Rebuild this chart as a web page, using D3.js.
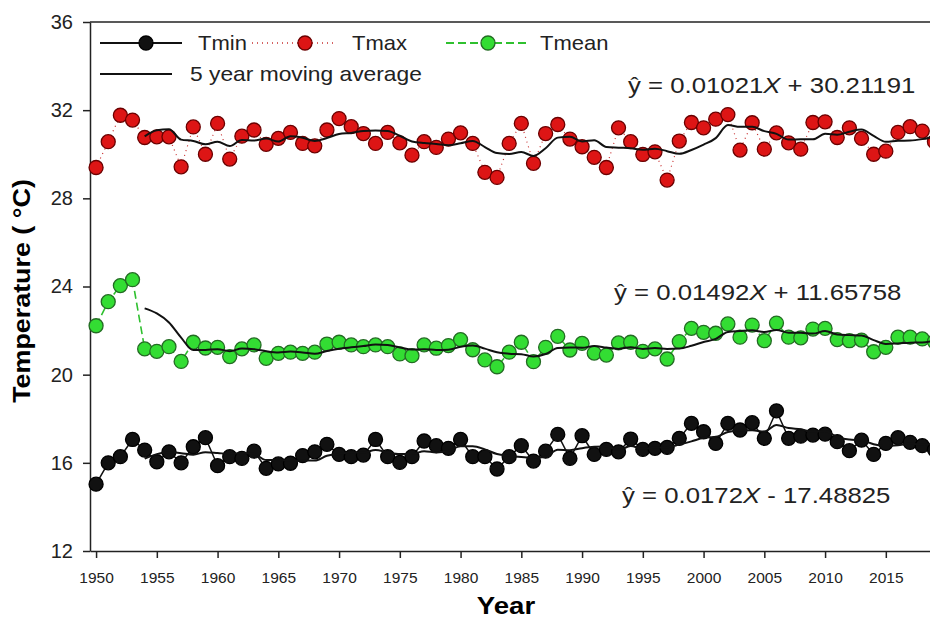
<!doctype html>
<html>
<head>
<meta charset="utf-8">
<title>Temperature</title>
<script src="https://d3js.org/d3.v7.min.js"></script>
<style>
body{margin:0;background:#fff;}
text{font-family:"Liberation Sans",Arial,sans-serif;}
</style>
</head>
<body>
<script>
var years = d3.range(1950, 2020);

var tmax = [29.40,30.57,31.77,31.55,30.76,30.79,30.79,29.43,31.24,30.00,
            31.40,29.78,30.82,31.10,30.45,30.72,30.99,30.49,30.38,31.10,
            31.62,31.25,30.94,30.49,30.99,30.52,29.96,30.57,30.31,30.69,
            30.97,30.49,29.18,28.95,30.49,31.40,29.59,30.94,31.35,30.69,
            30.34,29.86,29.40,31.20,30.57,29.99,30.11,28.83,30.60,31.44,
            31.20,31.59,31.80,30.19,31.43,30.23,30.97,30.52,30.23,31.44,
            31.47,30.76,31.20,30.72,30.00,30.14,30.99,31.25,31.05,30.57];

var tmean = [22.22,23.31,24.04,24.31,21.17,21.06,21.27,20.60,21.47,21.21,
             21.24,20.82,21.17,21.35,20.74,20.97,21.02,20.97,21.02,21.39,
             21.47,21.35,21.27,21.35,21.27,20.94,20.86,21.35,21.20,21.32,
             21.59,21.13,20.67,20.36,21.02,21.47,20.59,21.24,21.74,21.12,
             21.42,20.98,20.89,21.44,21.47,21.06,21.17,20.71,21.50,22.10,
             21.92,21.88,22.30,21.70,22.25,21.54,22.34,21.70,21.67,22.07,
             22.10,21.59,21.54,21.57,21.04,21.24,21.70,21.70,21.62,21.50];

var tmin = [15.03,16.00,16.28,17.06,16.58,16.05,16.50,16.00,16.73,17.14,
            15.87,16.28,16.20,16.53,15.75,15.95,15.98,16.33,16.50,16.84,
            16.38,16.28,16.35,17.06,16.28,16.02,16.28,16.99,16.78,16.66,
            17.06,16.28,16.28,15.72,16.28,16.78,16.08,16.53,17.29,16.20,
            17.23,16.38,16.61,16.50,17.08,16.61,16.66,16.70,17.11,17.79,
            17.41,16.88,17.79,17.49,17.82,17.11,18.36,17.11,17.21,17.26,
            17.30,16.96,16.55,17.03,16.38,16.88,17.14,16.93,16.78,16.60];

var xTicks = d3.range(1950, 2020, 5);
var yTicks = [12, 16, 20, 24, 28, 32, 36];

var equations = [
  {pre: "\u0177 = 0.01021", post: " + 30.21191", x: 628, y: 93},
  {pre: "\u0177 =  0.01492", post: " + 11.65758", x: 614, y: 300},
  {pre: "\u0177 = 0.0172", post: " - 17.48825", x: 622, y: 503}
];

var width = 930, height = 620;

var svg = d3.select("body").append("svg")
    .attr("width", width)
    .attr("height", height);

var x = d3.scaleLinear().domain([1949.5, 2020.5]).range([90, 90 + 71 * 12.15]);
var y = d3.scaleLinear().domain([12, 36]).range([551, 22]);

// 5 year moving average (trailing)
function movAvg(arr){
  var out = [];
  for (var i = 4; i < arr.length; i++){
    out.push({year: years[i], v: d3.mean(arr.slice(i - 4, i + 1))});
  }
  return out;
}

function pts(arr){
  return arr.map(function(v, i){ return {year: years[i], v: v}; });
}

// text a bit wider than the font, like the source picture
function wideText(g, tx, ty, sx, size){
  return g.append("text")
      .attr("transform", "translate(" + tx + "," + ty + ") scale(" + sx + ",1)")
      .style("font-size", size + "px")
      .attr("fill", "#222");
}

var line = d3.line()
    .x(function(d){ return x(d.year); })
    .y(function(d){ return y(d.v); });

var smooth = d3.line()
    .x(function(d){ return x(d.year); })
    .y(function(d){ return y(d.v); })
    .curve(d3.curveMonotoneX);

// axes
var yAxis = svg.append("g")
    .attr("transform", "translate(90,0)")
    .call(d3.axisLeft(y).tickValues(yTicks).tickSize(7).tickSizeOuter(0).tickPadding(10));
yAxis.selectAll("text").style("font-size", "20px").attr("fill", "#222");

var xAxis = svg.append("g")
    .attr("transform", "translate(0,551)")
    .call(d3.axisBottom(x).tickValues(xTicks).tickFormat(d3.format("d")).tickSize(7).tickSizeOuter(0).tickPadding(14));
xAxis.selectAll("text").style("font-size", "15.5px").attr("fill", "#222");

svg.selectAll(".domain, .tick line").attr("stroke", "#222").attr("stroke-width", 1.5);

svg.append("line")
    .attr("x1", 90).attr("x2", width)
    .attr("y1", y(36)).attr("y2", y(36))
    .attr("stroke", "#222").attr("stroke-width", 1.5);

svg.append("text")
    .attr("transform", "translate(30,291) rotate(-90) scale(1.12,1)")
    .attr("text-anchor", "middle")
    .style("font-size", "24px").style("font-weight", "bold")
    .text("Temperature ( \u00b0C)");

svg.append("text")
    .attr("transform", "translate(506,614) scale(1.15,1)")
    .attr("text-anchor", "middle")
    .style("font-size", "24px").style("font-weight", "bold")
    .text("Year");

var series = [
  {data: tmax, fill: "#dd1515", stroke: "#6a0000", lc: "#c83030", lw: 1.2, dash: "1,4"},
  {data: tmean, fill: "#33dd33", stroke: "#236b23", lc: "#2fc02f", lw: 1.6, dash: "8,4"},
  {data: tmin, fill: "#111", stroke: "#000", lc: "#111", lw: 1.5, dash: null}
];

series.forEach(function(s){
  var p = pts(s.data);
  svg.append("path")
      .datum(p)
      .attr("d", line)
      .attr("fill", "none")
      .attr("stroke", s.lc)
      .attr("stroke-width", s.lw)
      .attr("stroke-dasharray", s.dash);
  svg.append("g").selectAll("circle")
      .data(p)
      .enter()
      .append("circle")
      .attr("cx", function(d){ return x(d.year); })
      .attr("cy", function(d){ return y(d.v); })
      .attr("r", 7)
      .attr("fill", s.fill)
      .attr("stroke", s.stroke)
      .attr("stroke-width", 1.3);
  svg.append("path")
      .datum(movAvg(s.data))
      .attr("d", smooth)
      .attr("fill", "none")
      .attr("stroke", "#111")
      .attr("stroke-width", 2);
});

// equations
equations.forEach(function(e){
  var t = wideText(svg, e.x, e.y, 1.12, 23);
  t.append("tspan").text(e.pre);
  t.append("tspan").style("font-style", "italic").text("X");
  t.append("tspan").text(e.post);
});

// legend
var legend = [
  {label: "Tmin", s: series[2], x1: 100, x2: 182, cx: 146, tx: 198, y: 43},
  {label: "Tmax", s: series[0], x1: 252, x2: 334, cx: 305, tx: 352, y: 43},
  {label: "Tmean", s: series[1], x1: 446, x2: 528, cx: 488, tx: 540, y: 43}
];
var lg = svg.append("g");
legend.forEach(function(l){
  lg.append("line")
      .attr("x1", l.x1).attr("x2", l.x2)
      .attr("y1", l.y).attr("y2", l.y)
      .attr("stroke", l.s.lc)
      .attr("stroke-width", l.s.lw + 0.4)
      .attr("stroke-dasharray", l.s.dash);
  lg.append("circle")
      .attr("cx", l.cx).attr("cy", l.y).attr("r", 7)
      .attr("fill", l.s.fill).attr("stroke", l.s.stroke).attr("stroke-width", 1.3);
  wideText(lg, l.tx, l.y + 7, 1.1, 20).text(l.label);
});
lg.append("line")
    .attr("x1", 100).attr("x2", 172)
    .attr("y1", 74).attr("y2", 74)
    .attr("stroke", "#111").attr("stroke-width", 2);
wideText(lg, 190, 81, 1.14, 20).text("5 year moving average");
</script>
</body>
</html>
